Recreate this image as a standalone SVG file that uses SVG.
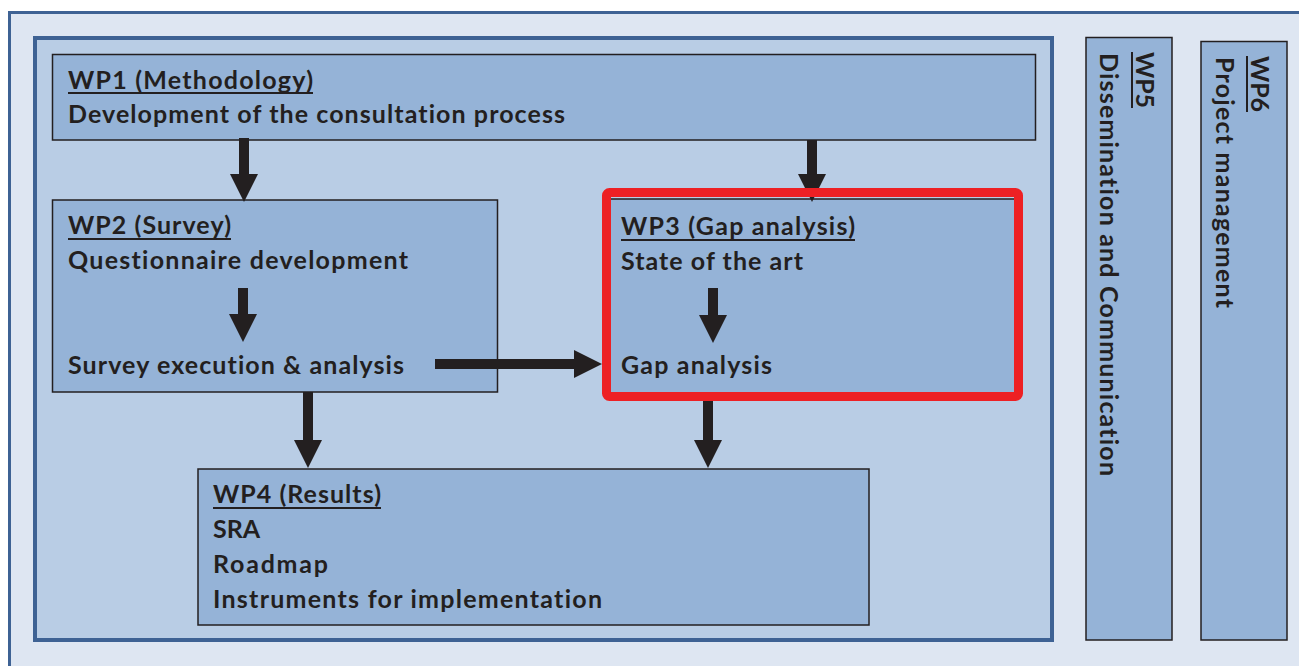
<svg xmlns="http://www.w3.org/2000/svg" width="1299" height="666" viewBox="0 0 1299 666">
<style>
.frame{stroke:#3e6294}
.node{fill:#95b3d7;stroke:#231f20;stroke-width:1.5}
.t{font-family:Lato,"Liberation Sans",sans-serif;font-weight:bold;font-size:25px;fill:#231f20;font-variant-ligatures:none}
.ul{stroke:#231f20;stroke-width:2}
.arrow{fill:#231f20}
</style>
<rect width="1299" height="666" fill="#ffffff"/>
<rect class="frame" x="9.5" y="12.5" width="1320" height="700" fill="#dee6f2" stroke-width="3"/>
<rect class="frame" x="35" y="38" width="1017" height="602" fill="#b9cde5" stroke-width="4"/>

<g id="wp1">
<rect class="node" x="52.5" y="54.5" width="983" height="85.5"/>
<text class="t" x="68" y="89" textLength="245">WP1 (Methodology)</text>
<line class="ul" x1="68" y1="93" x2="313" y2="93"/>
<text class="t" x="68" y="123" textLength="497">Development of the consultation process</text>
</g>

<g id="wp2">
<rect class="node" x="52.5" y="200" width="445" height="192"/>
<text class="t" x="68" y="234" textLength="163">WP2 (Survey)</text>
<line class="ul" x1="68" y1="239" x2="231" y2="239"/>
<text class="t" x="68" y="269" textLength="340">Questionnaire development</text>
<text class="t" x="68" y="374" textLength="336">Survey execution &amp; analysis</text>
</g>

<g id="wp4">
<rect class="node" x="198" y="469" width="671" height="156"/>
<text class="t" x="213" y="503" textLength="168">WP4 (Results)</text>
<line class="ul" x1="213" y1="508" x2="381" y2="508"/>
<text class="t" x="213" y="538" textLength="47">SRA</text>
<text class="t" x="213" y="573" textLength="115">Roadmap</text>
<text class="t" x="213" y="608" textLength="389">Instruments for implementation</text>
</g>

<g id="wp5">
<rect class="node" x="1086" y="37.5" width="86" height="602.5"/>
<g transform="translate(1136,52) rotate(90)">
<text class="t" x="0" y="0" textLength="56">WP5</text>
<line class="ul" x1="0" y1="4" x2="56" y2="4"/>
</g>
<text class="t" transform="translate(1100,53) rotate(90)" x="0" y="0" textLength="423">Dissemination and Communication</text>
</g>

<g id="wp6">
<rect class="node" x="1201" y="41.5" width="86" height="598.5"/>
<g transform="translate(1251,56) rotate(90)">
<text class="t" x="0" y="0" textLength="56">WP6</text>
<line class="ul" x1="0" y1="4" x2="56" y2="4"/>
</g>
<text class="t" transform="translate(1216,57) rotate(90)" x="0" y="0" textLength="251">Project management</text>
</g>

<g id="wp3">
<rect class="node" x="606" y="199" width="412" height="195"/>
<text class="t" x="621" y="235" textLength="234">WP3 (Gap analysis)</text>
<line class="ul" x1="621" y1="240" x2="855" y2="240"/>
<text class="t" x="621" y="270" textLength="182">State of the art</text>
<text class="t" x="621" y="374" textLength="151">Gap analysis</text>
</g>

<g id="connectors">
<polygon class="arrow" points="239,138 249,138 249,174 258,174 244,202 230,174 239,174"/>
<polygon class="arrow" points="807,140 817,140 817,174 826,174 812,202 798,174 807,174"/>
<polygon class="arrow" points="238,288 248,288 248,314 257,314 243,342 229,314 238,314"/>
<polygon class="arrow" points="435,359 435,369 574,369 574,378 602,364 574,350 574,359"/>
<polygon class="arrow" points="708,288 718,288 718,315 727,315 713,343 699,315 708,315"/>
<polygon class="arrow" points="303,392 313,392 313,440 322,440 308,468 294,440 303,440"/>
<polygon class="arrow" points="703,398 713,398 713,440 722,440 708,468 694,440 703,440"/>
</g>

<rect id="highlight" x="606.5" y="192.5" width="412" height="204" rx="3" fill="none" stroke="#ed2024" stroke-width="9"/>
</svg>
